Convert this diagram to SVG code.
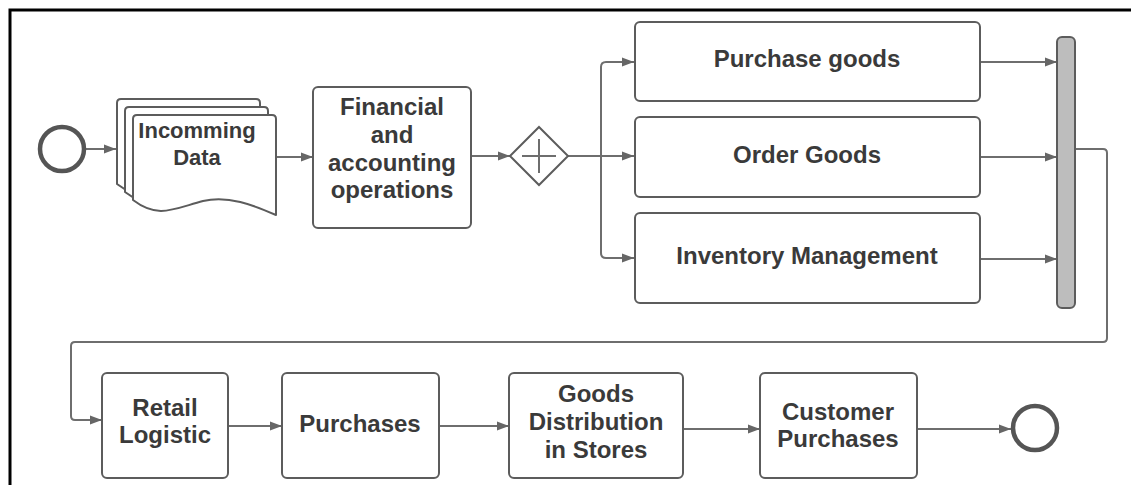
<svg xmlns="http://www.w3.org/2000/svg" width="1131" height="485" viewBox="0 0 1131 485">
  <style>
    .task { fill: #ffffff; stroke: #5c5c5c; stroke-width: 2; }
    .page { fill: #ffffff; stroke: #5c5c5c; stroke-width: 2; stroke-linejoin: round; }
    .event { fill: #ffffff; stroke: #555555; stroke-width: 4.5; }
    .gate { fill: #ffffff; stroke: #5c5c5c; stroke-width: 2; }
    .bar { fill: #bdbdbd; stroke: #5c5c5c; stroke-width: 2; }
    .flow { fill: none; stroke: #6e6e6e; stroke-width: 2; stroke-linejoin: round; }
    .arrow { fill: none; stroke: #6e6e6e; stroke-width: 2; marker-end: url(#head); }
    .label { font-family: "Liberation Sans", Arial, sans-serif; font-weight: bold; font-size: 24px; fill: #3a3a3a; text-anchor: middle; }
  </style>
  <defs>
    <marker id="head" markerUnits="userSpaceOnUse" markerWidth="13" markerHeight="10" refX="12" refY="5" orient="auto">
      <path d="M0,0.5 L12,5 L0,9.5 z" fill="#666666"/>
    </marker>
    <!-- document page with wavy bottom edge, origin at its top-left corner -->
    <path id="docPage" d="M0,4 Q0,0 4,0 H139 Q143,0 143,4 V100 C120,90 95,80 70,86 C40,94 25,104 0,85 Z"/>
  </defs>

  <rect width="1131" height="485" fill="#ffffff"/>
  <path d="M10,485 V10 H1131" fill="none" stroke="#000000" stroke-width="3"/>

  <!-- connectors -->
  <g id="connectors">
    <line class="arrow" x1="86" y1="149" x2="116" y2="149"/>
    <line class="arrow" x1="276" y1="157" x2="313" y2="157"/>
    <line class="arrow" x1="471" y1="156" x2="510" y2="156"/>
    <path class="flow" d="M568,156 H601"/>
    <path class="arrow" d="M601,156 V67 Q601,62 606,62 H634"/>
    <line class="arrow" x1="601" y1="156" x2="634" y2="156"/>
    <path class="arrow" d="M601,156 V253 Q601,258 606,258 H634"/>
    <line class="arrow" x1="980" y1="62" x2="1057" y2="62"/>
    <line class="arrow" x1="980" y1="157" x2="1057" y2="157"/>
    <line class="arrow" x1="980" y1="259" x2="1057" y2="259"/>
    <path class="arrow" d="M1075,149 H1103 Q1107,149 1107,153 V338 Q1107,342 1103,342 H75 Q71,342 71,346 V416 Q71,420 75,420 H102"/>
    <line class="arrow" x1="228" y1="426" x2="282" y2="426"/>
    <line class="arrow" x1="439" y1="426" x2="509" y2="426"/>
    <line class="arrow" x1="683" y1="429" x2="760" y2="429"/>
    <line class="arrow" x1="917" y1="429" x2="1011" y2="429"/>
  </g>

  <g id="start">
    <circle class="event" cx="62" cy="149" r="22"/>
  </g>

  <g id="incoming-data">
    <use href="#docPage" class="page" x="117" y="99"/>
    <use href="#docPage" class="page" x="125" y="107"/>
    <use href="#docPage" class="page" x="133" y="115"/>
    <text class="label" style="font-size:22px" x="197" y="138">Incomming</text>
    <text class="label" style="font-size:22px" x="197" y="165">Data</text>
  </g>

  <g id="financial">
    <rect class="task" x="313" y="87" width="158" height="141" rx="5"/>
    <text class="label" x="392" y="115">Financial</text>
    <text class="label" x="392" y="143">and</text>
    <text class="label" x="392" y="171">accounting</text>
    <text class="label" x="392" y="198">operations</text>
  </g>

  <g id="parallel-gateway">
    <path class="gate" d="M539,127 L568,156 L539,185 L510,156 Z"/>
    <path class="flow" d="M522,156 H556 M539,139 V173" stroke-width="2"/>
  </g>

  <g id="purchase-goods">
    <rect class="task" x="635" y="22" width="345" height="79" rx="5"/>
    <text class="label" x="807" y="67">Purchase goods</text>
  </g>

  <g id="order-goods">
    <rect class="task" x="635" y="117" width="345" height="80" rx="5"/>
    <text class="label" x="807" y="163">Order Goods</text>
  </g>

  <g id="inventory-management">
    <rect class="task" x="635" y="213" width="345" height="90" rx="5"/>
    <text class="label" x="807" y="264">Inventory Management</text>
  </g>

  <g id="join-bar">
    <rect class="bar" x="1057" y="37" width="18" height="271" rx="5"/>
  </g>

  <g id="retail-logistic">
    <rect class="task" x="102" y="373" width="126" height="105" rx="5"/>
    <text class="label" x="165" y="416">Retail</text>
    <text class="label" x="165" y="443">Logistic</text>
  </g>

  <g id="purchases">
    <rect class="task" x="282" y="373" width="157" height="105" rx="5"/>
    <text class="label" x="360" y="432">Purchases</text>
  </g>

  <g id="goods-distribution">
    <rect class="task" x="509" y="373" width="174" height="105" rx="5"/>
    <text class="label" x="596" y="402">Goods</text>
    <text class="label" x="596" y="430">Distribution</text>
    <text class="label" x="596" y="458">in Stores</text>
  </g>

  <g id="customer-purchases">
    <rect class="task" x="760" y="373" width="157" height="105" rx="5"/>
    <text class="label" x="838" y="420">Customer</text>
    <text class="label" x="838" y="447">Purchases</text>
  </g>

  <g id="end">
    <circle class="event" cx="1035" cy="428" r="22"/>
  </g>
</svg>
